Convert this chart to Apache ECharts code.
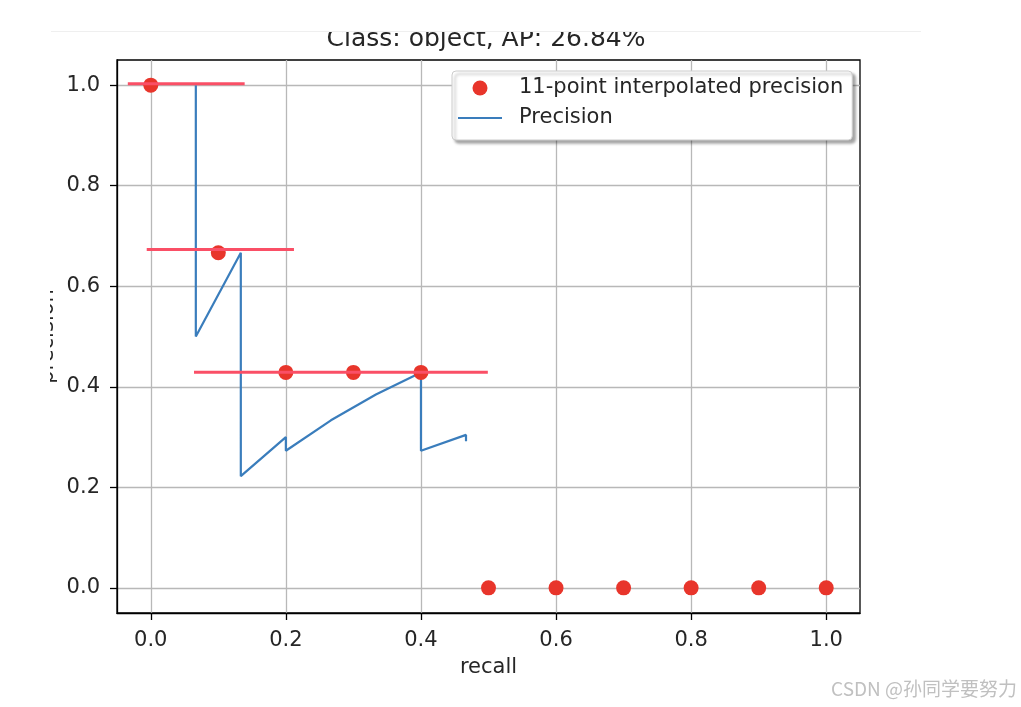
<!DOCTYPE html>
<html>
<head>
<meta charset="utf-8">
<script src="https://cdn.jsdelivr.net/npm/echarts@6/dist/echarts.min.js"></script>
<style>
html,body{margin:0;padding:0;background:#fff;}
#chart{width:1021px;height:707px;}
</style>
</head>
<body>
<div id="chart"></div>
<script>
// ---- data ----
const chartTitle = 'Class: object, AP: 26.84%';
const xTicks = [0, 0.2, 0.4, 0.6, 0.8, 1.0];
const yTicks = [0, 0.2, 0.4, 0.6, 0.8, 1.0];
// precision curve (recall, precision)
const recallVals    = [0.0667, 0.0667, 0.1333, 0.1333, 0.2, 0.2, 0.2667, 0.3333, 0.4, 0.4, 0.4667, 0.4667];
const precisionVals = [1.0, 0.5, 0.6667, 0.2222, 0.3, 0.2727, 0.3333, 0.3846, 0.4286, 0.2727, 0.3043, 0.2917];
// 11-point interpolated precision
const interpRecall    = [0, 0.1, 0.2, 0.3, 0.4, 0.5, 0.6, 0.7, 0.8, 0.9, 1.0];
const interpPrecision = [1.0, 0.6667, 0.4286, 0.4286, 0.4286, 0, 0, 0, 0, 0, 0];
// hand-drawn red annotation segments
const annoY     = [1.003, 0.673, 0.429];
const annoStart = [-0.034, -0.006, 0.064];
const annoEnd   = [0.139, 0.212, 0.499];

const FONT = 'DejaVu Sans';
const TXT = '#262626';
const chart = echarts.init(document.getElementById('chart'), null, {renderer: 'canvas'});

const annoSeries = annoY.map((y, i) => ({
  name: 'anno' + i,
  type: 'line',
  data: [[annoStart[i], y], [annoEnd[i], y]],
  symbol: 'none',
  lineStyle: {color: '#fa4f66', width: 3},
  z: 5,
  silent: true,
  clip: false
}));

const option = {
  animation: false,
  backgroundColor: '#ffffff',
  textStyle: {fontFamily: FONT},
  grid: {
    left: 117, right: 161, top: 60, bottom: 94,
    show: true, borderColor: '#000', borderWidth: 1.3, backgroundColor: 'transparent'
  },
  legend: {
    orient: 'vertical',
    left: 452, top: 71,
    padding: [5, 9, 10, 6],
    itemGap: 6,
    itemWidth: 44,
    itemHeight: 15,
    backgroundColor: '#ffffff',
    borderColor: '#cccccc',
    borderWidth: 1,
    borderRadius: 4,
    shadowColor: 'rgba(0,0,0,0.35)',
    shadowBlur: 3,
    shadowOffsetX: 3,
    shadowOffsetY: 3,
    textStyle: {fontFamily: FONT, fontSize: 21, color: TXT, lineHeight: 24, padding: [0, 0, 0, 12]},
    data: [
      {name: '11-point interpolated precision', icon: 'circle'},
      {name: 'Precision', icon: 'path://M0,0 M0,6.5 L44,6.5 L44,8.5 L0,8.5 Z M44,15'}
    ],
    z: 10
  },
  xAxis: {
    type: 'value', min: -0.05, max: 1.05,
    name: 'recall', nameLocation: 'middle', nameGap: 44, nameMoveOverlap: false,
    nameTextStyle: {fontFamily: FONT, fontSize: 21, color: TXT},
    axisLine: {show: true, onZero: false, lineStyle: {color: '#000', width: 1.3}},
    axisTick: {show: true, length: 7, customValues: xTicks, lineStyle: {color: '#000', width: 1.3}},
    axisLabel: {customValues: xTicks, formatter: v => v.toFixed(1), fontFamily: FONT, fontSize: 21, color: TXT, margin: 17},
    splitLine: {show: true, lineStyle: {color: '#b8b8b8', width: 1.3}}
  },
  yAxis: {
    type: 'value', min: -0.05, max: 1.05,
    name: 'precision', nameLocation: 'middle', nameGap: 59, nameRotate: 90, nameMoveOverlap: false,
    nameTextStyle: {fontFamily: FONT, fontSize: 21, color: TXT},
    axisLine: {show: true, onZero: false, lineStyle: {color: '#000', width: 1.3}},
    axisTick: {show: true, length: 7, customValues: yTicks, lineStyle: {color: '#000', width: 1.3}},
    axisLabel: {customValues: yTicks, formatter: v => v.toFixed(1), fontFamily: FONT, fontSize: 21, color: TXT, margin: 17},
    splitLine: {show: true, lineStyle: {color: '#b8b8b8', width: 1.3}}
  },
  series: [
    {
      name: 'Precision',
      type: 'line',
      data: recallVals.map((r, i) => [r, precisionVals[i]]),
      symbol: 'none',
      lineStyle: {color: '#3a7dbc', width: 2.2},
      itemStyle: {color: '#3a7dbc'},
      z: 3
    },
    {
      name: '11-point interpolated precision',
      type: 'scatter',
      data: interpRecall.map((r, i) => [r, interpPrecision[i]]),
      symbol: 'circle',
      symbolSize: 15,
      itemStyle: {color: '#e8352b', opacity: 1},
      z: 4
    },
    ...annoSeries
  ],
  graphic: [
    {type: 'text', x: 486, y: 39, z: 50,
     style: {text: chartTitle, fill: TXT, font: '25px "DejaVu Sans"', textAlign: 'center', textVerticalAlign: 'middle'}},
    {type: 'rect', x: 0, y: 0, z: 100, shape: {x: 0, y: 0, width: 1021, height: 31}, style: {fill: '#ffffff'}},
    {type: 'rect', x: 0, y: 0, z: 100, shape: {x: 0, y: 0, width: 50, height: 707}, style: {fill: '#ffffff'}},
    {type: 'line', z: 101, shape: {x1: 51, y1: 31.5, x2: 921, y2: 31.5}, style: {stroke: '#efefef', lineWidth: 1}},
    {type: 'text', x: 1017, y: 689, z: 100,
     style: {text: 'CSDN @孙同学要努力', fill: '#c0c0c0', font: '19px "Noto Sans CJK SC"', textAlign: 'right', textVerticalAlign: 'middle'}}
  ]
};
chart.setOption(option);
</script>
</body>
</html>
